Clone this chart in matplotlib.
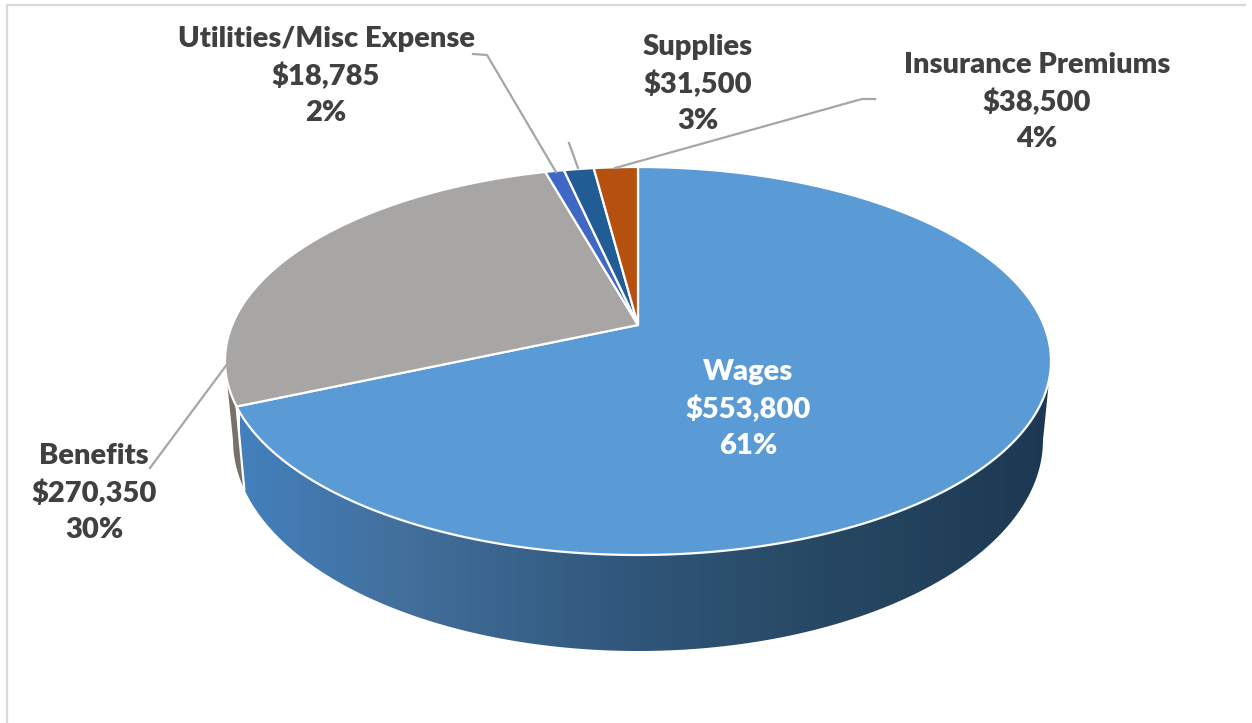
import numpy as np
import matplotlib
matplotlib.use('Agg')
import matplotlib.pyplot as plt
from matplotlib.colors import LinearSegmentedColormap
from matplotlib.patches import Polygon

# chart data
categories = ['Wages', 'Benefits', 'Utilities/Misc Expense', 'Supplies', 'Insurance Premiums']
amounts = [553800, 270350, 18785, 31500, 38500]
percents = ['61%', '30%', '2%', '3%', '4%']

top_colors = ['#5b9bd5', '#a8a6a4', '#3f68c4', '#225c94', '#b5500f']

# pie geometry in pixels
cx, cy, a, b = 638, 361, 413, 194  # top ellipse
apex_x, apex_y = 638, 325  # where the slices meet
cy2, a2, b2 = 440, 405, 211  # bottom ellipse

# perspective look: slices get stretched towards the front left
def warp(theta):
    back = 360 - theta
    return theta + 45 * np.sin(np.radians(theta) / 2)**2 - 0.6 * back * np.exp(-back / 8)

# from clockwise angle (from 12 o'clock) to the point on the top rim
def rimPoint(theta):
    phi = np.radians(warp(theta))
    dx, dy = np.sin(phi), -np.cos(phi)
    ox, oy = apex_x - cx, apex_y - cy
    A = (dx / a)**2 + (dy / b)**2
    B = 2 * (ox * dx / a**2 + oy * dy / b**2)
    C = (ox / a)**2 + (oy / b)**2 - 1
    r = (-B + np.sqrt(B**2 - 4 * A * C)) / (2 * A)
    return apex_x + r * dx, apex_y + r * dy

def wallPolygon(psi0, psi1):
    psi = np.linspace(psi0, psi1, 200)
    top = np.column_stack((cx + a * np.cos(psi), cy + b * np.sin(psi)))
    bot = np.column_stack((cx + a2 * np.cos(psi), cy2 + b2 * np.sin(psi)))
    return np.vstack((top, bot[::-1]))

fig = plt.figure(figsize=(12.52, 7.23), dpi=100)
ax = fig.add_axes([0, 0, 1, 1])
ax.set_xlim(0, 1252)
ax.set_ylim(723, 0)
ax.axis('off')

# chart frame (only top and left show)
ax.plot([1245, 7, 7], [4.5, 4.5, 723], color='#d9d9d9', lw=1.6, solid_joinstyle='miter')

# slice edges
shares = np.array(amounts) / sum(amounts)
edges = np.concatenate(([0], np.cumsum(shares))) * 360
edge_x, edge_y = rimPoint(edges[1])
psi_end = np.arctan2((edge_y - cy) / b, (edge_x - cx) / a)

# side wall of the benefits slice
ax.add_patch(Polygon(wallPolygon(psi_end, np.pi), closed=True, fc='#77716a', ec='none', zorder=2))

# side wall of the wages slice, with a gradient
wall_cmap = LinearSegmentedColormap.from_list('wall', [(0, '#4480bd'), (0.2, '#426f9c'),
                                                       (0.5, '#2f5578'), (0.72, '#274863'), (1, '#1d3852')])
wall = Polygon(wallPolygon(0, psi_end), closed=True, fc='none', ec='none', zorder=3)
ax.add_patch(wall)
im = ax.imshow(np.linspace(0, 1, 256).reshape(1, -1), cmap=wall_cmap, aspect='auto',
               extent=[240, 1052, 660, 350], zorder=3)
im.set_clip_path(wall)
ax.set_xlim(0, 1252)
ax.set_ylim(723, 0)
ax.plot([edge_x, cx + a2 * np.cos(psi_end)], [edge_y, cy2 + b2 * np.sin(psi_end)],
        color='white', lw=1.6, zorder=4)

# top faces
for i in range(len(amounts)):
    thetas = np.linspace(edges[i], edges[i + 1], 400)
    xs, ys = rimPoint(thetas)
    verts = np.column_stack((np.r_[apex_x, xs], np.r_[apex_y, ys]))
    ax.add_patch(Polygon(verts, closed=True, fc=top_colors[i], ec='white', lw=1.6,
                         joinstyle='round', zorder=5))

# leader lines
leader = dict(color='#a6a6a6', lw=1.6, zorder=6)
ax.plot([473, 487, 556], [54, 55, 172], **leader)
ax.plot([569, 578], [143, 168], **leader)
ax.plot([875, 862, 615], [99, 99, 168], **leader)
ax.plot([150, 228], [468, 363], **leader)

# labels
label_pos = [(748, 409), (94, 493), (326, 76), (698, 84), (1037, 102)]
label_col = ['white', '#404040', '#404040', '#404040', '#404040']
for i in range(len(categories)):
    txt = '%s\n$%s\n%s' % (categories[i], format(amounts[i], ','), percents[i])
    ax.text(label_pos[i][0], label_pos[i][1], txt, ha='center', va='center', color=label_col[i],
            fontsize=21, fontweight='heavy', family='Lato', linespacing=1.49, zorder=7)

fig.savefig('out.png', dpi=100)
